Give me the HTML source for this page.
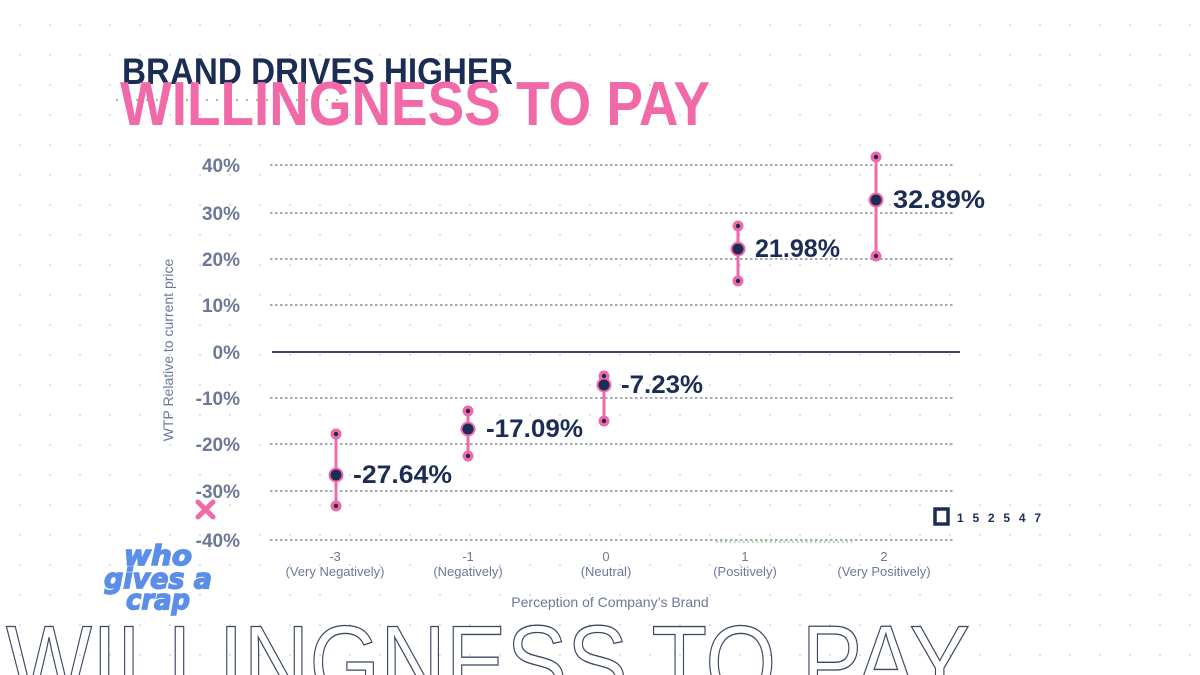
<!DOCTYPE html>
<html><head><meta charset="utf-8"><style>
html,body{margin:0;padding:0;background:#fff;width:1200px;height:675px;overflow:hidden}
svg{display:block;overflow:hidden}
</style></head><body>
<svg width="1200" height="675" viewBox="0 0 1200 675" xmlns="http://www.w3.org/2000/svg" font-family="Liberation Sans, sans-serif">
<defs>
<pattern id="dots" x="5" y="10" width="30" height="30" patternUnits="userSpaceOnUse">
<circle cx="15" cy="15" r="1" fill="#d4d8de"/>
</pattern>
<clipPath id="frame"><rect width="1200" height="675"/></clipPath>
</defs>
<g clip-path="url(#frame)">
<rect width="1200" height="675" fill="#fff"/>
<rect width="1200" height="675" fill="url(#dots)"/>

<text x="122" y="84" font-size="37" font-weight="bold" fill="#1b2d55" textLength="391" lengthAdjust="spacingAndGlyphs">BRAND DRIVES HIGHER</text>
<line x1="116" y1="100" x2="345" y2="100" stroke="#6cc04a" stroke-width="1.5" stroke-dasharray="2 8"/>
<text x="120" y="125" font-size="62" font-weight="bold" fill="#f269a8" textLength="590" lengthAdjust="spacingAndGlyphs">WILLINGNESS TO PAY</text>

<g stroke="#6f7686" stroke-width="1.3" stroke-dasharray="2.5 2.5">
<line x1="270" y1="165" x2="955" y2="165"/>
<line x1="270" y1="213" x2="955" y2="213"/>
<line x1="270" y1="259" x2="955" y2="259"/>
<line x1="270" y1="305" x2="955" y2="305"/>
<line x1="270" y1="398" x2="955" y2="398"/>
<line x1="270" y1="444" x2="955" y2="444"/>
<line x1="270" y1="491" x2="955" y2="491"/>
<line x1="270" y1="540" x2="955" y2="540"/>
</g>
<line x1="716" y1="542" x2="852" y2="542" stroke="#6cc04a" stroke-width="1.2" stroke-dasharray="1.5 3"/>
<line x1="272" y1="352" x2="960" y2="352" stroke="#3d4663" stroke-width="2"/>

<g font-size="19" font-weight="bold" fill="#6c7898" text-anchor="end">
<text x="240" y="172">40%</text>
<text x="240" y="220">30%</text>
<text x="240" y="266">20%</text>
<text x="240" y="312">10%</text>
<text x="240" y="359">0%</text>
<text x="240" y="405">-10%</text>
<text x="240" y="451">-20%</text>
<text x="240" y="498">-30%</text>
<text x="240" y="547">-40%</text>
</g>
<text transform="translate(173,350) rotate(-90)" font-size="14" fill="#6c7898" text-anchor="middle">WTP Relative to current price</text>

<g font-size="13" fill="#6c7898" text-anchor="middle">
<text x="335" y="561">-3</text><text x="335" y="576">(Very Negatively)</text>
<text x="468" y="561">-1</text><text x="468" y="576">(Negatively)</text>
<text x="606" y="561">0</text><text x="606" y="576">(Neutral)</text>
<text x="745" y="561">1</text><text x="745" y="576">(Positively)</text>
<text x="884" y="561">2</text><text x="884" y="576">(Very Positively)</text>
</g>
<text x="610" y="607" font-size="14" fill="#6c7898" text-anchor="middle">Perception of Company’s Brand</text>

<g stroke="#f269a8" stroke-width="3">
<line x1="336" y1="434" x2="336" y2="506"/>
<line x1="468" y1="411" x2="468" y2="456"/>
<line x1="604" y1="376" x2="604" y2="421"/>
<line x1="738" y1="226" x2="738" y2="281"/>
<line x1="876" y1="157" x2="876" y2="256"/>
</g>
<g fill="#f269a8">
<circle cx="336" cy="434" r="5.5"/><circle cx="336" cy="506" r="5.5"/><circle cx="336" cy="475" r="7.5"/>
<circle cx="468" cy="411" r="5.5"/><circle cx="468" cy="456" r="5.5"/><circle cx="468" cy="429" r="7.5"/>
<circle cx="604" cy="376" r="5.5"/><circle cx="604" cy="421" r="5.5"/><circle cx="604" cy="385" r="7.5"/>
<circle cx="738" cy="226" r="5.5"/><circle cx="738" cy="281" r="5.5"/><circle cx="738" cy="249" r="7.5"/>
<circle cx="876" cy="157" r="5.5"/><circle cx="876" cy="256" r="5.5"/><circle cx="876" cy="200" r="7.5"/>
</g>
<g fill="#1b2d55">
<circle cx="336" cy="434" r="2.2"/><circle cx="336" cy="506" r="2.2"/><circle cx="336" cy="475" r="5.5"/>
<circle cx="468" cy="411" r="2.2"/><circle cx="468" cy="456" r="2.2"/><circle cx="468" cy="429" r="5.5"/>
<circle cx="604" cy="376" r="2.2"/><circle cx="604" cy="421" r="2.2"/><circle cx="604" cy="385" r="5.5"/>
<circle cx="738" cy="226" r="2.2"/><circle cx="738" cy="281" r="2.2"/><circle cx="738" cy="249" r="5.5"/>
<circle cx="876" cy="157" r="2.2"/><circle cx="876" cy="256" r="2.2"/><circle cx="876" cy="200" r="5.5"/>
</g>

<g font-size="25" font-weight="bold" fill="#1b2d55">
<text x="353" y="483" textLength="99" lengthAdjust="spacingAndGlyphs">-27.64%</text>
<text x="486" y="437" textLength="97" lengthAdjust="spacingAndGlyphs">-17.09%</text>
<text x="621" y="393" textLength="82" lengthAdjust="spacingAndGlyphs">-7.23%</text>
<text x="755" y="257" textLength="85" lengthAdjust="spacingAndGlyphs">21.98%</text>
<text x="893" y="208" textLength="92" lengthAdjust="spacingAndGlyphs">32.89%</text>
</g>

<g stroke="#f269a8" stroke-width="5" stroke-linecap="round">
<line x1="198" y1="502" x2="213" y2="517"/><line x1="213" y1="502" x2="198" y2="517"/>
</g>

<rect x="935" y="509" width="13" height="15" fill="none" stroke="#1b2d55" stroke-width="3.5"/>
<text x="957" y="522" font-size="12" font-weight="bold" fill="#1b2d55" textLength="84" lengthAdjust="spacing">152547</text>

<g font-size="28" font-weight="bold" font-style="italic" fill="#5b8ee8" stroke="#5b8ee8" stroke-width="1.5" text-anchor="middle" font-family="DejaVu Sans, sans-serif">
<text x="158" y="565" textLength="68" lengthAdjust="spacingAndGlyphs">who</text>
<text x="158" y="588" textLength="108" lengthAdjust="spacingAndGlyphs">gives a</text>
<text x="158" y="609" textLength="64" lengthAdjust="spacingAndGlyphs">crap</text>
</g>

<text x="6" y="698" font-size="104" fill="none" stroke="#3d4663" stroke-width="1.3" textLength="964" lengthAdjust="spacingAndGlyphs">WILLINGNESS TO PAY</text>
</g>
</svg>
</body></html>
